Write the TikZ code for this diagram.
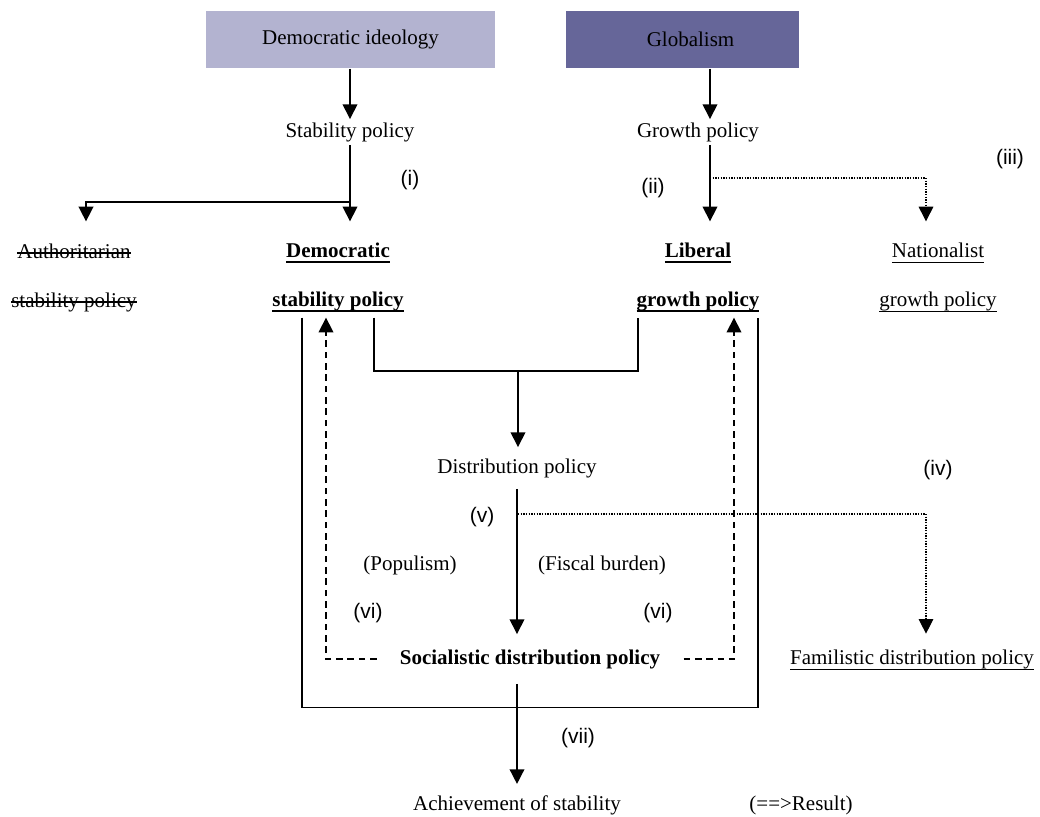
\documentclass[tikz,border=0pt]{standalone}
\usepackage{fontspec}
\setmainfont{Liberation Serif}
\newfontfamily\tagfont{Liberation Sans}
\usepackage{tikz}
\usetikzlibrary{arrows.meta, calc, positioning}

\definecolor{ideolight}{HTML}{B3B3D0}
\definecolor{ideodark}{HTML}{666699}
% underline and strike-out of one line of text, thickness first
\newcommand\undtext[2]{\setbox0\hbox{#2}\rlap{\rule[-0.22em]{\wd0}{#1}}\box0}
\newcommand\cuttext[2]{\setbox0\hbox{#2}\rlap{\rule[0.2em]{\wd0}{#1}}\box0}

\begin{document}
\begin{tikzpicture}[x=0.75pt,y=-0.75pt,>={Triangle[width=11pt,length=11pt]},line width=1.1pt,
	font=\fontsize{15.75}{18}\selectfont,
	topbox/.style={minimum height=42.75pt,inner sep=0pt},
	plain/.style={inner sep=2pt},
	choice/.style={align=center,inner ysep=4pt,font=\fontsize{15.75}{36.75}\selectfont},
	keyb/.style={choice,font=\fontsize{15.75}{36.75}\selectfont\bfseries},
	tag/.style={font=\tagfont\fontsize{15.75}{18}\selectfont,inner sep=0pt},
	hint/.style={line width=0.8pt,dash pattern=on 1pt off 1pt},
	back/.style={dash pattern=on 5pt off 3.5pt}]
	\useasboundingbox (0,0) rectangle (1040,817);

	% sources
	\node[topbox,fill=ideolight,minimum width=216.75pt] (ideo) at (350.5,39.5) {Democratic ideology};
	\node[topbox,fill=ideodark,minimum width=174.75pt] (glob) at (682.5,39.5) {\hspace*{12pt}Globalism};
	\node[plain] (stab) at (350,132) {Stability policy};
	\node[plain] (grow) at (698,132) {Growth policy};

	% choices
	\node[choice] (auth) at (74,277.5) {\cuttext{1.4pt}{Authoritarian}\\\cuttext{1.4pt}{stability policy}};
	\node[keyb] (dem) at (338,277.5) {\undtext{1.4pt}{Democratic}\\\undtext{1.4pt}{stability policy}};
	\node[keyb] (lib) at (698,277.5) {\undtext{1.4pt}{Liberal}\\\undtext{1.4pt}{growth policy}};
	\node[choice] (nat) at (938,277.5) {\undtext{0.8pt}{Nationalist}\\\undtext{0.8pt}{growth policy}};

	% distribution
	\node[plain,inner ysep=8pt] (dist) at (517,468) {Distribution policy};
	\node[plain,font=\fontsize{15.75}{18}\selectfont\bfseries,inner xsep=17pt,inner ysep=11pt] (soc) at (530,659) {Socialistic distribution policy};
	\node[plain,inner ysep=12pt] (fam) at (912,660) {\undtext{0.8pt}{Familistic distribution policy}};
	\node[plain] (pop) at (410,565) {(Populism)};
	\node[plain] (fisc) at (602,565) {(Fiscal burden)};
	\node[plain,inner ysep=8pt] (ach) at (517,805) {Achievement of stability};
	\node[plain] (res) at (801,805) {(==>Result)};

	% tags
	\node[tag] (ti) at (410,180) {(i)};
	\node[tag] (tii) at (653,188) {(ii)};
	\node[tag] (tiii) at (1010,159) {(iii)};
	\node[tag] (tiv) at (938,470) {(iv)};
	\node[tag] (tv) at (482,517) {(v)};
	\node[tag] (tvi) at (368,613) {(vi)};
	\node[tag] (tvi2) at (658,613) {(vi)};
	\node[tag] (tvii) at (578,738) {(vii)};

	% columns and split points
	\coordinate (lcol) at (350,0);
	\coordinate (rcol) at (710,0);
	\coordinate (acol) at (86,0);
	\coordinate (ncol) at (926,0);
	\coordinate (split1) at (350,202);
	\coordinate (split2) at (710,178);
	\coordinate (join) at (518,371);
	\coordinate (split3) at (518,514);

	\draw[->] (ideo.south -| lcol) -- (stab.north -| lcol);
	\draw[->] (glob.south -| rcol) -- (grow.north -| rcol);
	\draw[->,shorten >=12pt] (stab.south -| lcol) -- (dem.north -| lcol);
	\draw[->,shorten >=12pt] (split1) -| (auth.north -| acol);
	\draw[->,shorten >=12pt] (grow.south -| rcol) -- (lib.north -| rcol);
	\draw[->,hint,shorten >=12pt] (split2) -| (nat.north -| ncol);

	\draw ([xshift=27pt]dem.south) |- (join) -| ([xshift=-45pt]lib.south);
	\draw[->] (join) -- (join |- dist.north);
	\draw ([xshift=-27pt]dem.south) -- ++(0,390) -| ([xshift=45pt]lib.south);
	\draw[->] (dist.south) -- (dist.south |- soc.north);
	\draw[->,hint] (split3) -| ([xshift=10.5pt]fam.north);
	\draw[->,back] (soc.west) -| ([xshift=-9pt]dem.south);
	\draw[->,back] (soc.east) -| ([xshift=27pt]lib.south);
	\draw[->] (soc.south -| ach.north) -- (ach.north);
\end{tikzpicture}
\end{document}
